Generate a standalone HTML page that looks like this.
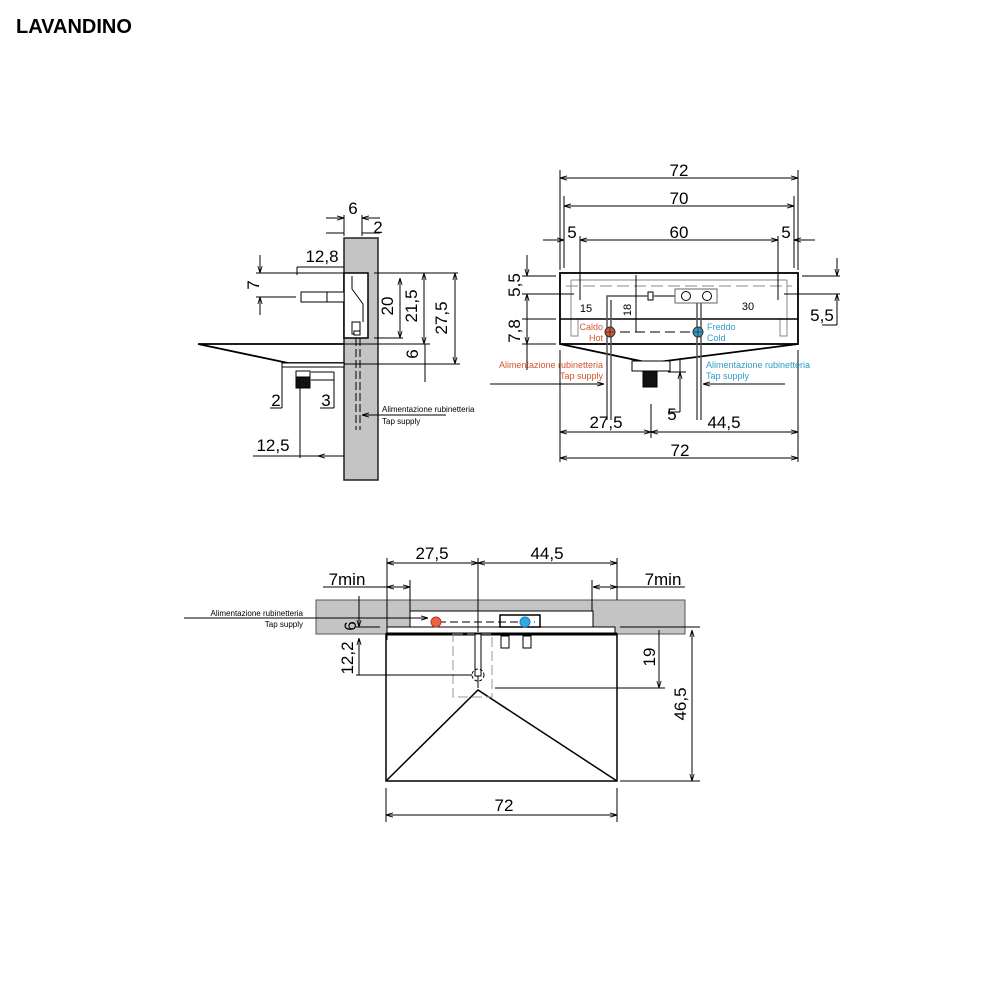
<!DOCTYPE html>
<html><head><meta charset="utf-8"><style>
html,body{margin:0;padding:0;background:#fff}
svg{display:block}
text{font-family:"Liberation Sans",sans-serif}
</style></head><body>
<svg width="1000" height="1000" viewBox="0 0 1000 1000" xmlns="http://www.w3.org/2000/svg">
<defs>
<marker id="a" viewBox="0 0 10 10" refX="10" refY="5" markerWidth="7" markerHeight="7" orient="auto-start-reverse"><path d="M0,2 L10,5 L0,8" fill="none" stroke="#000" stroke-width="1.2"/></marker>
</defs>
<text x="16" y="33" font-size="20" font-weight="bold">LAVANDINO</text>

<!-- ============ VIEW 1 (side) ============ -->
<g stroke="#000" stroke-width="1" fill="none">
<rect x="344" y="238" width="34" height="242" fill="#c4c4c4" stroke="#222" stroke-width="1.5"/>
<rect x="344" y="273" width="24" height="65" fill="#fff" stroke-width="1.5"/>
<path d="M352 276 V289 L363 304 V322"/>
<rect x="352" y="322" width="8" height="12" fill="#fff"/>
<rect x="354" y="331" width="6" height="4" fill="#fff"/>
<path d="M356 338 V430 M360 338 V430" stroke-dasharray="8,3"/>
<rect x="301" y="292" width="43" height="10" fill="#fff"/>
<path d="M327 292 V302"/>
<path d="M198 344 H344 M198 344 L288 363 H344" stroke-width="1.8"/>
<rect x="282" y="363" width="62" height="4" fill="#fff"/>
<rect x="296" y="371" width="14" height="6" fill="#fff"/>
<rect x="296" y="377" width="14" height="11" fill="#111"/>
<path d="M344 236 V215 M362 236 V215"/>
<path d="M326 218 H344" marker-end="url(#a)"/><path d="M380 218 H362" marker-end="url(#a)"/>
<path d="M326 233 H344 M362 233 H380" />
<path d="M297 267 H344"/><path d="M297 267 V275"/>
<path d="M256 273 H344 M256 297 H296"/>
<path d="M260 255 V273" marker-end="url(#a)"/><path d="M260 315 V297" marker-end="url(#a)"/>
<path d="M374 273 H458 M374 338 H403 M344 344 H430 M344 364 H460"/>
<path d="M400 278 V338" marker-start="url(#a)" marker-end="url(#a)"/>
<path d="M424 273 V344" marker-start="url(#a)" marker-end="url(#a)"/>
<path d="M425 344 V382"/>
<path d="M455 273 V364" marker-start="url(#a)" marker-end="url(#a)"/>
<path d="M282 367 V408 M270 408 H282"/>
<path d="M300 388 V458 M311 372 H334 M311 380 H334 M334 372 V408 M320 408 H334"/>
<path d="M253 456 H300"/>
<path d="M344 456 H318" marker-end="url(#a)"/>
<path d="M300 456 H318" />
<path d="M380 415 H362" marker-end="url(#a)"/><path d="M380 415 H446"/>
</g>
<g font-size="17" text-anchor="middle">
<text x="353" y="214">6</text><text x="378" y="233">2</text>
<text x="322" y="262">12,8</text>
<text x="259" y="285" transform="rotate(-90 259 285)">7</text>
<text x="393" y="306" transform="rotate(-90 393 306)">20</text>
<text x="417" y="306" transform="rotate(-90 417 306)">21,5</text>
<text x="447" y="318" transform="rotate(-90 447 318)">27,5</text>
<text x="418" y="354" transform="rotate(-90 418 354)">6</text>
<text x="276" y="406">2</text><text x="326" y="406">3</text>
<text x="273" y="451">12,5</text>
</g>
<text x="382" y="412" font-size="8">Alimentazione rubinetteria</text>
<text x="382" y="424" font-size="8">Tap supply</text>

<!-- ============ VIEW 2 (front) ============ -->
<g stroke="#000" stroke-width="1" fill="none">
<rect x="560" y="273" width="238" height="71" stroke-width="1.8"/>
<path d="M571 280 H787 M571 280 V336 H578 V319 M787 280 V336 H780 V319" stroke="#888"/>
<path d="M566 286 H792" stroke="#888" stroke-dasharray="12,5"/>
<path d="M560 319 H798" stroke-width="1.5"/>
<path d="M560 344 L650 363 L798 344" stroke-width="1.8"/>
<rect x="632" y="361" width="38" height="10" fill="#fff"/>
<rect x="643" y="371" width="14" height="16" fill="#111"/>
<rect x="675" y="289" width="42" height="14" fill="#fff" stroke="#666"/>
<circle cx="686" cy="296" r="4.5"/><circle cx="707" cy="296" r="4.5"/>
<rect x="648" y="292" width="5" height="8" fill="#fff"/>
<path d="M653 296 H675 M648 296 H607 V420 M611 300 V420" stroke="#555" stroke-width="1.5"/>
<path d="M697 303 V420 M701 303 V420" stroke="#555" stroke-width="1.5"/>
<path d="M620 332 H690" stroke-dasharray="10,5"/>
<path d="M636 275 V332"/>
<path d="M560 170 V270 M798 170 V270 M564 196 V268 M794 196 V268"/>
<path d="M560 178 H798" marker-start="url(#a)" marker-end="url(#a)"/>
<path d="M564 206 H794" marker-start="url(#a)" marker-end="url(#a)"/>
<path d="M580 236 V300 M778 236 V300"/>
<path d="M543 240 H564" marker-end="url(#a)"/><path d="M580 240 H778" marker-start="url(#a)" marker-end="url(#a)"/><path d="M815 240 H794" marker-end="url(#a)"/>
<path d="M522 276 H556 M522 294 H574 M522 319 H556 M522 344 H556"/>
<path d="M527 255 V276" marker-end="url(#a)"/><path d="M527 294 V344" marker-start="url(#a)" marker-end="url(#a)"/><path d="M527 370 V344"/>
<path d="M802 276 H840 M784 294 H840"/>
<path d="M837 258 V276" marker-end="url(#a)"/><path d="M837 325 V294" marker-end="url(#a)"/><path d="M822 325 H837"/>
<path d="M680 360 V412 M668 372 H686 M668 412 H680"/>
<path d="M680 385 V372" marker-end="url(#a)"/>
<path d="M560 350 V462 M798 350 V462 M651 404 V438"/>
<path d="M560 432 H651" marker-start="url(#a)" marker-end="url(#a)"/>
<path d="M651 432 H798" marker-start="url(#a)" marker-end="url(#a)"/>
<path d="M560 458 H798" marker-start="url(#a)" marker-end="url(#a)"/>
<path d="M490 384 H604" marker-end="url(#a)"/>
<path d="M785 384 H703" marker-end="url(#a)"/>
</g>
<circle cx="610" cy="332" r="5" fill="#d4552e" stroke="#333"/>
<circle cx="698" cy="332" r="5" fill="#2e9dc8" stroke="#333"/>
<path d="M605 332 H615 M610 327 V337 M693 332 H703 M698 327 V337" stroke="#333" stroke-width="0.8"/>
<g font-size="17" text-anchor="middle">
<text x="679" y="176">72</text><text x="679" y="204">70</text>
<text x="572" y="238">5</text><text x="679" y="238">60</text><text x="786" y="238">5</text>
<text x="520" y="285" transform="rotate(-90 520 285)">5,5</text>
<text x="520" y="331" transform="rotate(-90 520 331)">7,8</text>
<text x="822" y="321">5,5</text>
<text x="606" y="428">27,5</text><text x="724" y="428">44,5</text>
<text x="680" y="456">72</text>
<text x="672" y="420">5</text>
</g>
<g font-size="11" text-anchor="middle">
<text x="586" y="312">15</text><text x="748" y="310">30</text>
<text x="631" y="310" transform="rotate(-90 631 310)">18</text>
</g>
<g font-size="9" fill="#d4552e" text-anchor="end">
<text x="603" y="330">Caldo</text><text x="603" y="341">Hot</text>
<text x="603" y="368">Alimentazione rubinetteria</text><text x="603" y="379">Tap supply</text>
</g>
<g font-size="9" fill="#2e9dc8">
<text x="707" y="330">Freddo</text><text x="707" y="341">Cold</text>
<text x="706" y="368">Alimentazione rubinetteria</text><text x="706" y="379">Tap supply</text>
</g>

<!-- ============ VIEW 3 (plan) ============ -->
<g stroke="#000" stroke-width="1" fill="none">
<rect x="316" y="600" width="369" height="34" fill="#c4c4c4" stroke="#555"/>
<rect x="410" y="611" width="183" height="16" fill="#fff"/>
<rect x="387" y="627" width="228" height="7" fill="#fff"/>
<rect x="386" y="634" width="231" height="147" fill="#fff" stroke-width="1.5"/>
<path d="M386 634 H617" stroke-width="3"/>
<path d="M386 781 L478 690 L617 781" stroke-width="1.5"/>
<rect x="500" y="615" width="40" height="12" stroke-width="1.5"/>
<rect x="501" y="636" width="8" height="12"/><rect x="523" y="636" width="8" height="12"/>
<path d="M438 622 H535" stroke-dasharray="8,4"/>
<rect x="453" y="634" width="39" height="63" stroke="#999" stroke-dasharray="10,4"/>
<rect x="475" y="634" width="6" height="42" fill="#fff"/>
<path d="M478 676 V688"/>
<circle cx="478" cy="675" r="6" stroke-dasharray="3,2"/>
<path d="M478 558 V632"/>
<path d="M387 558 V640 M617 558 V600 M410 580 V611 M592 580 V611"/>
<path d="M387 563 H478" marker-start="url(#a)" marker-end="url(#a)"/>
<path d="M478 563 H617" marker-start="url(#a)" marker-end="url(#a)"/>
<path d="M323 587 H387"/><path d="M387 587 H410" marker-start="url(#a)" marker-end="url(#a)"/>
<path d="M593 587 H617" marker-start="url(#a)" marker-end="url(#a)"/><path d="M617 587 H685"/>
<path d="M359 596 V627" marker-end="url(#a)"/><path d="M356 627 H380"/>
<path d="M359 638 V675" marker-start="url(#a)"/><path d="M356 675 H472"/>
<path d="M620 627 H700 M495 688 H665"/>
<path d="M659 630 V688" marker-end="url(#a)"/>
<path d="M692 630 V781" marker-start="url(#a)" marker-end="url(#a)"/><path d="M620 781 H700"/>
<path d="M386 788 V822 M617 788 V822"/>
<path d="M386 815 H617" marker-start="url(#a)" marker-end="url(#a)"/>
<path d="M184 618 H428" marker-end="url(#a)"/>
</g>
<circle cx="436" cy="622" r="5" fill="#e8633e" stroke="#b33"/>
<circle cx="525" cy="622" r="5" fill="#2ea9e0" stroke="#27c"/>
<g font-size="17" text-anchor="middle">
<text x="432" y="559">27,5</text><text x="547" y="559">44,5</text>
<text x="347" y="585">7min</text><text x="663" y="585">7min</text>
<text x="356" y="626" transform="rotate(-90 356 626)">6</text>
<text x="353" y="658" transform="rotate(-90 353 658)">12,2</text>
<text x="655" y="657" transform="rotate(-90 655 657)">19</text>
<text x="686" y="704" transform="rotate(-90 686 704)">46,5</text>
<text x="504" y="811">72</text>
</g>
<g font-size="8" text-anchor="end">
<text x="303" y="616">Alimentazione rubinetteria</text><text x="303" y="627">Tap supply</text>
</g>
</svg>
</body></html>
